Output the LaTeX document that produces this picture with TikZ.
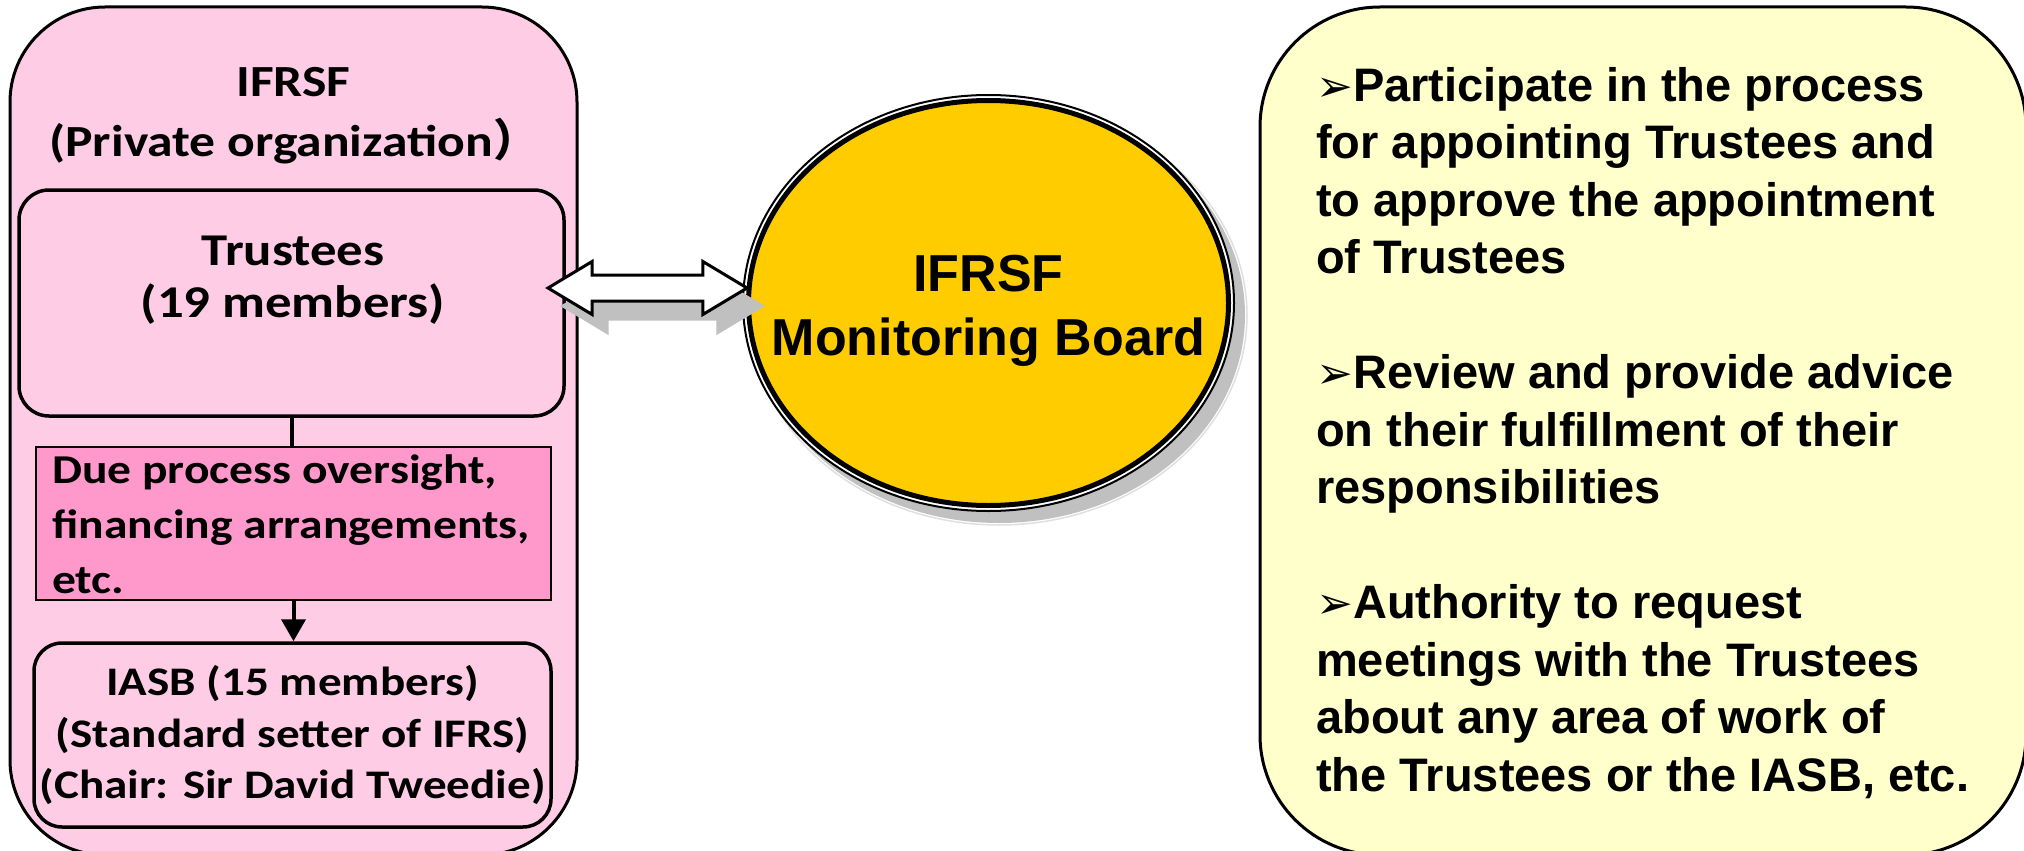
\documentclass[tikz,border=0pt]{standalone}
\usepackage{fontspec}
\usetikzlibrary{shapes.geometric,shapes.arrows,arrows.meta,positioning}
\newfontfamily\calib{Carlito}[FakeStretch=1.16]
\newfontfamily\arialf{Liberation Sans}
\newfontfamily\cjk{Noto Sans CJK JP}
\newfontfamily\dingf{DejaVu Sans}
\definecolor{orgpink}{HTML}{FFCCE6}
\definecolor{duepink}{HTML}{FF99CC}
\definecolor{boardgold}{HTML}{FFCC00}
\definecolor{notecream}{HTML}{FFFFCC}
\definecolor{shadowgray}{HTML}{C0C0C0}
\newcommand{\bul}{{\dingf\fontsize{44}{44}\selectfont ➢}}
\tikzset{
  orgbox/.style={draw, line width=3pt, fill=orgpink, rounded corners=95pt, inner sep=0pt},
  unitbox/.style={draw, line width=3.5pt, fill=orgpink, rounded corners=30pt, inner sep=0pt},
  duebox/.style={draw, line width=2pt, fill=duepink, inner sep=0pt},
  notebox/.style={draw, line width=3pt, fill=notecream, rounded corners=120pt, inner sep=0pt},
  calitxt/.style={align=center, inner sep=0pt},
  arialtxt/.style={font=\arialf\bfseries\fontsize{47}{57.5}\selectfont, align=left, inner sep=0pt},
  dblarrow/.style={double arrow, draw, line width=3pt, fill=white, inner sep=11.5pt,
    double arrow head extend=13.5pt, double arrow tip angle=62, minimum height=199pt},
}
\begin{document}
\begin{tikzpicture}[x=1pt,y=-1pt]
  \useasboundingbox (0,0) rectangle (2024,851);
  % IFRSF side
  \node[orgbox, minimum width=567pt, minimum height=848pt] (ifrsf) at (293.5,431) {};
  \node[calitxt, font=\calib\bfseries\fontsize{44.5}{60}\selectfont] (ifrsftitle) at (293.5,116)
    {IFRSF\\(Private organization{\cjk ）}};
  \node[unitbox, minimum width=545pt, minimum height=226pt] (trustees) at (291.5,303) {};
  \node[calitxt, font=\calib\bfseries\fontsize{45.5}{52}\selectfont] (trusteestxt) at (293,280)
    {Trustees\\(19 members)};
  \node[duebox, minimum width=515pt, minimum height=153pt] (due) at (293.5,523.5) {};
  \node[calitxt, align=left, anchor=north west, font=\calib\bfseries\fontsize{41}{55}\selectfont]
    (duetxt) at (52,455) {Due process oversight,\\financing arrangements,\\etc.};
  \node[unitbox, rounded corners=28pt, minimum width=517pt, minimum height=184pt, align=center,
    font=\calib\bfseries\fontsize{40.6}{51.5}\selectfont] (iasb) at (292.5,735)
    {IASB (15 members)\\(Standard setter of IFRS)\\(Chair: Sir David Tweedie)};
  \draw[line width=4pt] (trustees.south) -- (trustees.south |- due.north);
  \draw[line width=4pt, -{Triangle[width=24pt,length=22pt]}] (due.south) -- (due.south |- iasb.north);
  % monitoring board
  \fill[shadowgray] (999,315) ellipse [x radius=246pt, y radius=208pt];
  \draw[shadowgray!50, line width=1.5pt] (999,315) ellipse [x radius=248pt, y radius=210pt];
  \draw[line width=2pt, fill=white] (988.5,303) ellipse [x radius=245.5pt, y radius=208pt];
  \node[ellipse, draw, line width=5pt, fill=boardgold, minimum width=480pt, minimum height=405pt,
    inner sep=0pt] (board) at (988.5,303) {};
  \node[align=center, font=\arialf\bfseries\fontsize{52}{64}\selectfont] (boardtxt)
    at (988.5,311) {IFRSF\\Monitoring Board};
  \node[dblarrow, fill=shadowgray, draw=shadowgray] (linkshadow) at (662.5,306) {};
  \node[dblarrow] (link) at (647.5,288) {};
  % role of the board
  \node[notebox, minimum width=766pt, minimum height=848pt] (duties) at (1643,431) {};
  \node[arialtxt, anchor=north west] (dutiestxt) at (1316,67)
    {\bul Participate in the process\\for appointing Trustees and\\to approve the appointment\\of Trustees\\[57.5pt]
     \bul Review and provide advice\\on their fulfillment of their\\responsibilities\\[57.5pt]
     \bul Authority to request\\meetings with the Trustees\\about any area of work of\\the Trustees or the IASB, etc.};
\end{tikzpicture}
\end{document}
